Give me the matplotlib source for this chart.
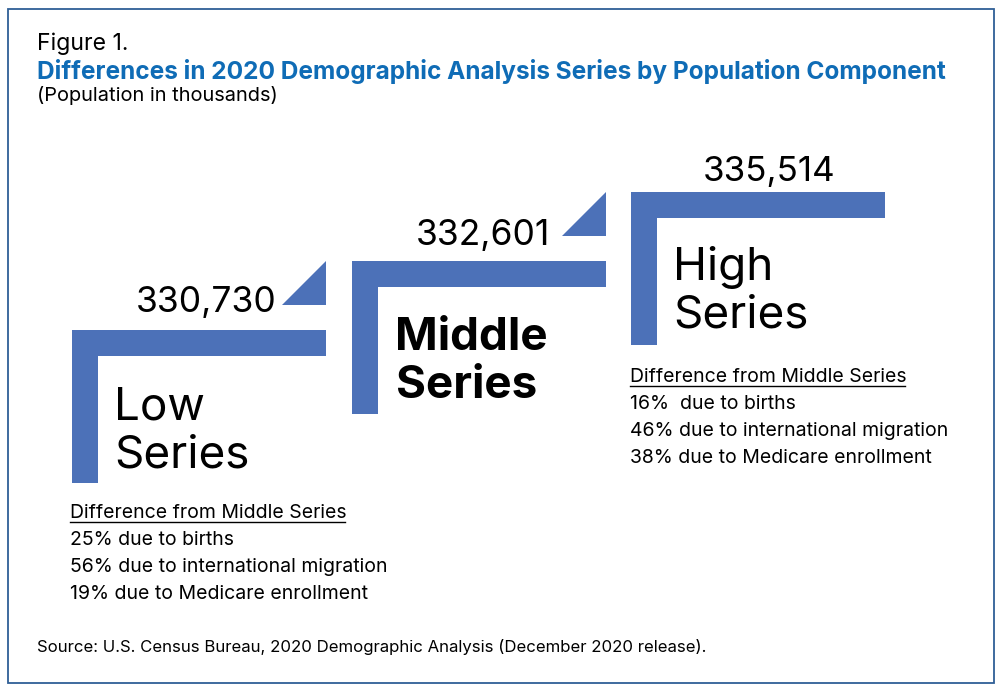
import matplotlib.pyplot as plt
from matplotlib.patches import Polygon, Rectangle

series_names = ['Low\nSeries', 'Middle\nSeries', 'High\nSeries']
series_values = [330730, 332601, 335514]
note_header = 'Difference from Middle Series'
low_notes = ['25% due to births', '56% due to international migration', '19% due to Medicare enrollment']
high_notes = ['16%  due to births', '46% due to international migration', '38% due to Medicare enrollment']

BLUE = '#4c71b8'
TITLE_BLUE = '#0f6cb6'
FONT = 'Inter'

plt.rcParams['font.family'] = FONT

fig = plt.figure(figsize=(10, 6.88), dpi=100)
ax = fig.add_axes([0, 0, 1, 1])
ax.set_xlim(0, 1000)
ax.set_ylim(688, 0)
ax.axis('off')

ax.add_patch(Rectangle((8, 9), 986, 674, fill=False, edgecolor='#2f5f96', linewidth=1.3))

ax.text(37, 50, 'Figure 1.', fontsize=16.6, color='black')
ax.text(37, 79, 'Differences in 2020 Demographic Analysis Series by Population Component',
        fontsize=17.6, color=TITLE_BLUE, fontweight='bold')
ax.text(37, 101, '(Population in thousands)', fontsize=14.4, color='black')

# each step of the stairs moves right and up by the same amount
step_w = 279.5
step_h = 69
width = 254
height = 153
thick = 26

# small nudges per step, the words and values don't sit evenly in the original
word_dx = [-1, 1, -1]
word_dy = [1, 1, 0]

for i, (name, value) in enumerate(zip(series_names, series_values)):
    x = 72 + i * step_w
    y = 330 - i * step_h
    ax.add_patch(Polygon([(x, y), (x + width, y), (x + width, y + thick), (x + thick, y + thick),
                          (x + thick, y + height), (x, y + height)], color=BLUE, linewidth=0))
    weight = 'bold' if i == 1 else 'normal'
    top, bottom = name.split('\n')
    ax.text(x + 43 + word_dx[i], y + 88 + word_dy[i], top, fontsize=33, fontweight=weight, color='black')
    ax.text(x + 43 + word_dx[i], y + 136 + word_dy[i], bottom, fontsize=33, fontweight=weight, color='black')
    label = f'{value:,}'
    if i == 0:
        ax.add_patch(Polygon([(x + 210, y - 25), (x + width, y - 25), (x + width, y - 69)],
                             color=BLUE, linewidth=0))
        ax.text(x + 205, y - 18, label, fontsize=25.5, ha='right', color='black')
    elif i == 1:
        ax.add_patch(Polygon([(x + 210, y - 25), (x + width, y - 25), (x + width, y - 69)],
                             color=BLUE, linewidth=0))
        ax.text(x + 198.5, y - 16, label, fontsize=25.5, ha='right', color='black')
    else:
        ax.text(x + 138, y - 11, label, fontsize=25.2, ha='center', color='black')


def draw_notes(x, y, notes):
    ax.text(x, y, note_header, fontsize=14, color='black')
    ax.plot([x, x + 275], [y + 3.5, y + 3.5], color='black', linewidth=1)
    for j, line in enumerate(notes):
        ax.text(x, y + 27 * (j + 1), line, fontsize=14, color='black')


draw_notes(70, 518, low_notes)
draw_notes(630, 382, high_notes)

ax.text(37, 652, 'Source: U.S. Census Bureau, 2020 Demographic Analysis (December 2020 release).',
        fontsize=12.05, color='black')

fig.savefig('out.png', dpi=100)
